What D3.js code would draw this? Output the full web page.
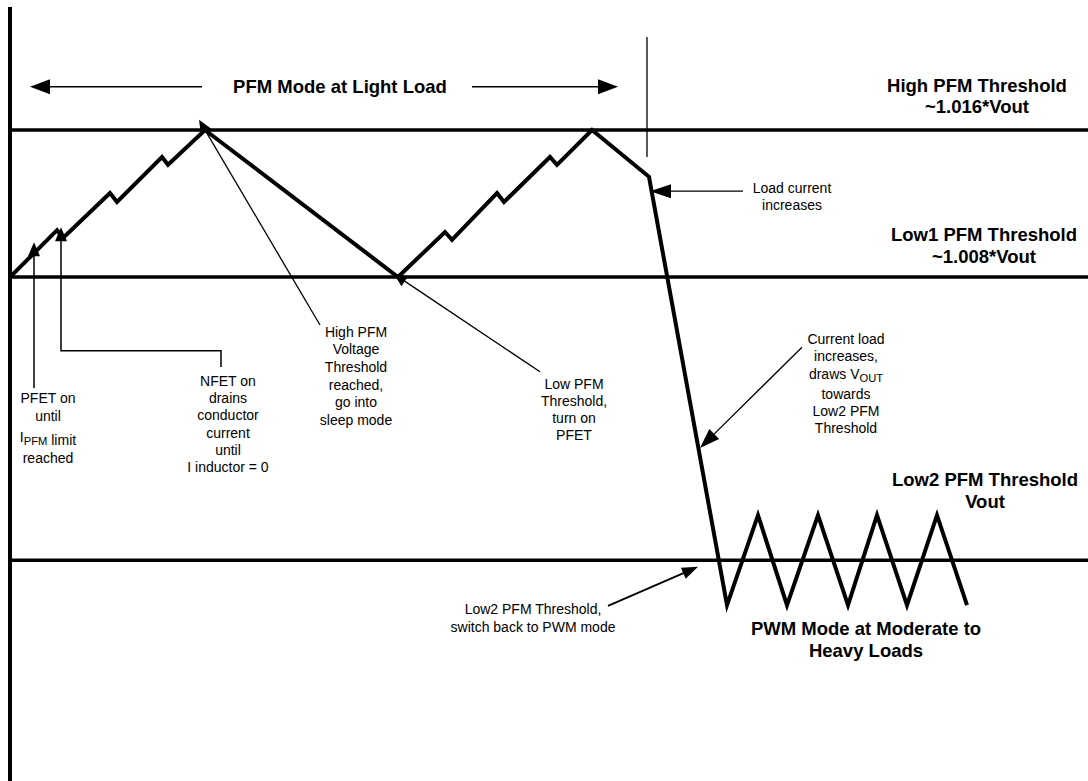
<!DOCTYPE html>
<html><head><meta charset="utf-8">
<script src="https://cdn.jsdelivr.net/npm/d3@7/dist/d3.min.js"></script>
<style>body{margin:0;background:#fff}svg{display:block}</style>
</head><body><svg id="c" width="1088" height="781"></svg>
<script>
// ---------------- data (schematic units) ----------------
const waveT = [0.2, 4.7, 5.3, 10.0, 10.7, 15.2, 15.8, 19.5, 38.8, 43.5, 44.2, 48.7, 49.4, 54.0, 54.7, 58.2, 63.9, 71.7, 74.8, 77.7, 80.8, 83.8, 86.7, 89.7, 92.7, 95.7];
const waveV = [70.8, 78.3, 77.0, 84.5, 83.0, 90.5, 89.2, 95.0, 70.5, 78.0, 76.7, 84.5, 83.0, 90.5, 89.2, 95.0, 87.2, 15.8, 30.8, 15.8, 30.8, 15.8, 30.8, 15.8, 30.8, 15.8];
const thresholdLevels = [95, 70.5, 23.3];
const thresholdTitles = ["High PFM Threshold", "Low1 PFM Threshold", "Low2 PFM Threshold"];
const thresholdValues = ["~1.016*Vout", "~1.008*Vout", "Vout"];
const modeLabels = ["PFM Mode at Light Load", "PWM Mode at Moderate to", "Heavy Loads"];

// annotation texts (segments: [text, isSubscript])
const noteLoad = [[["Load current"]], [["increases"]]];
const notePfet = [[["PFET on"]], [["until"]], [["I"], ["PFM", 1], [" limit"]], [["reached"]]];
const noteNfet = [[["NFET on"]], [["drains"]], [["conductor"]], [["current"]], [["until"]], [["I inductor = 0"]]];
const noteHigh = [[["High PFM"]], [["Voltage"]], [["Threshold"]], [["reached,"]], [["go into"]], [["sleep mode"]]];
const noteLow = [[["Low PFM"]], [["Threshold,"]], [["turn on"]], [["PFET"]]];
const noteCur = [[["Current load"]], [["increases,"]], [["draws V"], ["OUT", 1]], [["towards"]], [["Low2 PFM"]], [["Threshold"]]];
const noteSwitch = [[["Low2 PFM Threshold,"]], [["switch back to PWM mode"]]];

// ---------------- scales ----------------
const W = 1088, H = 781;
const xs = d3.scaleLinear().domain([0, 108]).range([10, 1090]);
const ys = d3.scaleLinear().domain([0, 100]).range([700, 100]);
const svg = d3.select("#c");
const FONT = "'Liberation Sans', Arial, sans-serif";

// left axis
svg.append("line").attr("x1", xs(0)).attr("x2", xs(0))
  .attr("y1", ys(115.5)).attr("y2", H)
  .attr("stroke", "#000").attr("stroke-width", 4);

// threshold lines
svg.selectAll("line.thr").data(thresholdLevels).join("line").attr("class", "thr")
  .attr("x1", xs(0)).attr("x2", W)
  .attr("y1", d => ys(d)).attr("y2", d => ys(d))
  .attr("stroke", "#000").attr("stroke-width", 3.5);

// waveform
const wave = waveT.map((t, i) => [t, waveV[i]]);
svg.append("path").datum(wave)
  .attr("d", d3.line().x(d => xs(d[0])).y(d => ys(d[1])))
  .attr("fill", "none").attr("stroke", "#000").attr("stroke-width", 4)
  .attr("stroke-linejoin", "miter").attr("stroke-miterlimit", 4);

// arrow helper: pts in units, last point is tip
function arrow(pts, len, hw, sw) {
  const px = pts.map(p => [xs(p[0]), ys(p[1])]);
  const tip = px[px.length - 1], prev = px[px.length - 2];
  const dx = tip[0] - prev[0], dy = tip[1] - prev[1];
  const L = Math.hypot(dx, dy), ux = dx / L, uy = dy / L;
  const bx = tip[0] - ux * len, by = tip[1] - uy * len;
  const linePts = px.slice(0, -1).concat([[bx + ux * 2, by + uy * 2]]);
  svg.append("path").attr("d", d3.line()(linePts))
    .attr("fill", "none").attr("stroke", "#000").attr("stroke-width", sw);
  svg.append("path").attr("d", d3.line()([tip, [bx - uy * hw, by + ux * hw], [bx + uy * hw, by - ux * hw]]) + "Z")
    .attr("fill", "#000");
}

// text helper
function note(lines, cx, baselines, size, weight) {
  lines.forEach((segs, i) => {
    const t = svg.append("text").attr("x", xs(cx)).attr("y", ys(baselines[i]))
      .attr("text-anchor", "middle").attr("font-family", FONT)
      .attr("font-size", size).attr("font-weight", weight || "normal").attr("fill", "#000");
    segs.forEach(s => {
      const sp = t.append("tspan").text(s[0]);
      if (s[1]) sp.attr("font-size", size * 0.8).attr("dy", 3);
    });
  });
}

// top PFM mode arrows
arrow([[19.2, 102.2], [2.0, 102.2]], 20, 7.5, 1.5);
arrow([[46.2, 102.2], [60.8, 102.2]], 20, 7.5, 1.5);
note([[[modeLabels[0]]]], 33.0, [101.2], 18.5, "bold");
svg.append("line").attr("x1", xs(63.7)).attr("x2", xs(63.7))
  .attr("y1", ys(110.5)).attr("y2", ys(90.5)).attr("stroke", "#000").attr("stroke-width", 1.3);

// threshold labels
const thrCx = [96.7, 97.4, 97.5];
const thrBase = [[101.3, 97.8], [76.5, 72.8], [35.7, 32.0]];
thresholdTitles.forEach((tt, i) => note([[[tt]], [[thresholdValues[i]]]], thrCx[i], thrBase[i], 18.5, "bold"));

// PWM label
note([[[modeLabels[1]]], [[modeLabels[2]]]], 85.6, [10.8, 7.2], 18.5, "bold");

// annotations
arrow([[73.3, 84.8], [64.0, 84.8]], 21, 7, 1.3);
note(noteLoad, 78.2, [84.5, 81.7], 14);

arrow([[2.4, 52.0], [2.4, 76.3]], 14, 6, 1.5);
note(notePfet, 3.8, [49.5, 46.5, 43.0, 39.5], 14);

arrow([[21.1, 55.5], [21.1, 58.2], [5.1, 58.2], [5.1, 78.8]], 14, 6, 1.5);
note(noteNfet, 21.8, [52.3, 49.5, 46.7, 43.75, 40.8, 38.0], 14);

arrow([[31.0, 62.5], [18.9, 96.7]], 14, 6, 1.3);
note(noteHigh, 34.6, [60.5, 57.6, 54.7, 51.75, 48.8, 45.9], 14);

arrow([[53.0, 54.7], [38.4, 71.0]], 13, 6, 1.3);
note(noteLow, 56.4, [51.8, 49.0, 46.2, 43.3], 14);

arrow([[79.2, 58.8], [69.0, 42.0]], 20, 7, 1.3);
note(noteCur, 83.6, [59.3, 56.5, 53.5, 50.2, 47.3, 44.5], 14);

arrow([[59.8, 15.7], [68.8, 22.2]], 16, 6, 1.8);
note(noteSwitch, 52.3, [14.3, 11.3], 14);
</script></body></html>
